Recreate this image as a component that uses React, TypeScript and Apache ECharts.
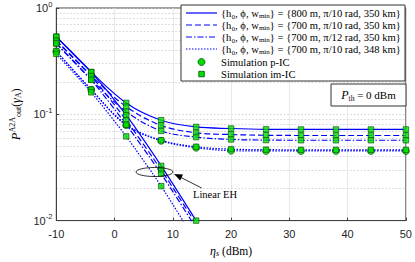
import React, { useEffect, useRef } from 'react';
import * as echarts from 'echarts';

// x positions of simulation markers (dBm)
const xMarks = [-10, -4, 2, 8, 14, 20, 26, 32, 38, 44, 50];
const xLinear = [-10, -4, 2, 8, 14];

// Non-linear EH analytic curves
const nlSolid = [0.537, 0.25, 0.128, 0.088, 0.076, 0.0735, 0.0722, 0.072, 0.072, 0.072, 0.072];
const nlDashed = [0.494, 0.23, 0.118, 0.0785, 0.067, 0.0645, 0.0635, 0.0632, 0.0632, 0.0632, 0.0632];
const nlDashDot = [0.464, 0.212, 0.106, 0.0698, 0.061, 0.058, 0.0572, 0.057, 0.057, 0.057, 0.057];
const nlDotted = [0.393, 0.171, 0.08, 0.057, 0.0495, 0.047, 0.0465, 0.0463, 0.0463, 0.0463, 0.0463];

// Linear EH analytic curves
const linSolid = [0.537, 0.249, 0.098, 0.0327, 0.01];
const linDashed = [0.494, 0.229, 0.088, 0.03, 0.0093];
const linDashDot = [0.464, 0.211, 0.08, 0.0276, 0.0085];
const linDotted = [0.37, 0.161, 0.062, 0.0211, 0.0063];

// Simulation p-IC (circles) on the lowest curve
const pIC = [0.39, 0.17, 0.079, 0.0563, 0.0485, 0.0455, 0.0452, 0.0452, 0.0452, 0.0452, 0.0452];

const curveNames = ['c800', 'c700', 'c700b', 'c348'];
const curveLabels = [
  '{h₀, ϕ, w{s|min}} = {800 m, π/10 rad, 350 km}',
  '{h₀, ϕ, w{s|min}} = {700 m, π/10 rad, 350 km}',
  '{h₀, ϕ, w{s|min}} = {700 m, π/12 rad, 350 km}',
  '{h₀, ϕ, w{s|min}} = {700 m, π/10 rad, 348 km}',
];
const simLabels = ['Simulation p-IC', 'Simulation im-IC'];

const yMinor = [0.02, 0.03, 0.04, 0.05, 0.06, 0.07, 0.08, 0.09, 0.2, 0.3, 0.4, 0.5, 0.6, 0.7, 0.8, 0.9];

const BLUE = '#0000ff';
const GREEN = '#00e000';
const MEDGE = '#0a4a0a';
const SERIF = '"Liberation Serif", "DejaVu Serif", serif';
const SANS = '"Liberation Sans", Arial, sans-serif';

const styles: any[] = ['solid', [6, 3], [6, 2, 1.5, 2], [1.5, 1.5]];
const dashArr: any[] = [null, [6, 3], [6, 2, 1.5, 2], [1.5, 1.5]];

function pairs(xs: number[], ys: number[]) {
  return xs.map((x, i) => [x, ys[i]]);
}

export default function App() {
  const ref = useRef<HTMLDivElement>(null);
  useEffect(() => {
    if (!ref.current) return;
    const chart = echarts.init(ref.current, null, { renderer: 'svg' });
    const nl = [nlSolid, nlDashed, nlDashDot, nlDotted];
    const lin = [linSolid, linDashed, linDashDot, linDotted];
    const lineSeries: any[] = [];
    nl.forEach((arr, i) => {
      lineSeries.push({
        type: 'line',
        name: curveNames[i],
        data: pairs(xMarks, arr),
        smooth: 0.35,
        symbol: 'none',
        lineStyle: { color: BLUE, width: 1.2, type: styles[i] },
        itemStyle: { color: BLUE },
        z: 2,
        ...(i === 0
          ? {
              markLine: {
                silent: true,
                symbol: ['none', 'none'],
                label: { show: false },
                lineStyle: { color: '#c8c8c8', type: [1.5, 2], width: 0.8 },
                data: yMinor.map((v) => ({ yAxis: v })),
                z: 0,
              },
            }
          : {}),
      });
    });
    // p-IC analytic companion of the lowest curve
    lineSeries.push({
      type: 'line',
      name: 'c348-pIC',
      data: pairs(xMarks, pIC),
      smooth: 0.35,
      symbol: 'none',
      lineStyle: { color: BLUE, width: 1.2, type: styles[3] },
      z: 2,
    });
    lin.forEach((arr, i) => {
      lineSeries.push({
        type: 'line',
        name: curveNames[i],
        data: pairs(xLinear, arr),
        smooth: 0.2,
        symbol: 'none',
        clip: true,
        lineStyle: { color: BLUE, width: 1.2, type: styles[i] },
        itemStyle: { color: BLUE },
        z: 2,
      });
    });
    const squares: number[][] = [];
    nl.forEach((arr) => arr.forEach((v, j) => squares.push([xMarks[j], v])));
    lin.forEach((arr) => arr.forEach((v, j) => { if (v >= 0.01) squares.push([xLinear[j], v]); }));

    // legend drawn as graphic elements
    const LX = 181, LY = 5, LW = 224, LH = 76;
    const rowY = [13, 25, 37, 49, 62, 74];
    const legendEls: any[] = [
      { type: 'rect', shape: { x: LX, y: LY, width: LW, height: LH }, style: { fill: '#fff', stroke: '#333', lineWidth: 1 }, z: 100 },
    ];
    curveLabels.forEach((t, i) => {
      legendEls.push({
        type: 'line', shape: { x1: 186, y1: rowY[i], x2: 217, y2: rowY[i] },
        style: { stroke: BLUE, lineWidth: 1.2, lineDash: dashArr[i] }, z: 101,
      });
      legendEls.push({
        type: 'text', x: 221, y: rowY[i], z: 101,
        style: {
          text: t, fontFamily: SERIF, fontSize: 10.6, fill: '#000', verticalAlign: 'middle',
          rich: { s: { fontSize: 7, fontFamily: SERIF, padding: [5, 0, 0, 0] } },
        },
      });
    });
    legendEls.push({ type: 'circle', shape: { cx: 201.5, cy: rowY[4], r: 3.5 }, style: { fill: GREEN, stroke: MEDGE, lineWidth: 0.8 }, z: 101 });
    legendEls.push({ type: 'rect', shape: { x: 198.8, y: rowY[5] - 2.7, width: 5.5, height: 5.5 }, style: { fill: GREEN, stroke: MEDGE, lineWidth: 0.8 }, z: 101 });
    simLabels.forEach((t, k) => {
      legendEls.push({
        type: 'text', x: 221, y: rowY[4 + k], z: 101,
        style: { text: t, fontFamily: SERIF, fontSize: 10.6, fill: '#000', verticalAlign: 'middle' },
      });
    });

    chart.setOption({
      animation: false,
      grid: { left: 47, right: 8, top: 5, bottom: 36, show: true, borderColor: '#404040', borderWidth: 1, backgroundColor: '#fff' },
      xAxis: [
        {
          type: 'value',
          min: -10,
          max: 50,
          interval: 10,
          name: '{i|η}{s|s} (dBm)',
          nameLocation: 'middle',
          nameGap: 22,
          nameTextStyle: {
            fontFamily: SERIF, fontSize: 11.5, color: '#000',
            rich: { i: { fontStyle: 'italic', fontFamily: SERIF, fontSize: 12 }, s: { fontStyle: 'italic', fontFamily: SERIF, fontSize: 8, padding: [5, 0, 0, 0] } },
          },
          axisLine: { show: true, onZero: false, lineStyle: { color: '#404040' } },
          axisTick: { inside: true, length: 3, lineStyle: { color: '#404040' } },
          axisLabel: { fontFamily: SANS, fontSize: 11, color: '#262626', margin: 8 },
          splitLine: { show: true, lineStyle: { color: '#e3e3e3', width: 0.8 } },
        },
      ],
      yAxis: [
        {
          type: 'log',
          logBase: 10,
          min: 0.01,
          max: 1,
          name: '{i|P}{sp|A2A}{sb|out}({i|γ}{sb|A})',
          nameLocation: 'middle',
          nameGap: 26,
          nameRotate: 90,
          nameTextStyle: {
            fontFamily: SERIF, fontSize: 11.5, color: '#000',
            rich: {
              i: { fontStyle: 'italic', fontFamily: SERIF, fontSize: 12.5 },
              sp: { fontFamily: SERIF, fontSize: 8, padding: [0, 0, 7, 0] },
              sb: { fontFamily: SERIF, fontSize: 8, padding: [6, 0, 0, 0] },
            },
          },
          axisLine: { show: true, onZero: false, lineStyle: { color: '#404040' } },
          axisTick: { inside: true, length: 3, lineStyle: { color: '#404040' } },
          axisLabel: {
            fontFamily: SANS, fontSize: 11, color: '#262626', margin: 4,
            formatter: (v: number) => '10{sup|' + Math.round(Math.log10(v)) + '}',
            rich: { sup: { fontFamily: SANS, fontSize: 7.5, padding: [0, 0, 8, 0], color: '#262626' } },
          },
          splitLine: { show: true, lineStyle: { color: '#c8c8c8', type: [1.5, 2], width: 0.8 } },
        },
      ],
      series: [
        ...lineSeries,
        {
          type: 'scatter',
          name: simLabels[0],
          data: pairs(xMarks, pIC),
          symbol: 'circle',
          symbolSize: 7,
          itemStyle: { color: GREEN, borderColor: MEDGE, borderWidth: 0.8 },
          z: 4,
        },
        {
          type: 'scatter',
          name: simLabels[1],
          data: squares,
          symbol: 'rect',
          symbolSize: 5.5,
          clip: true,
          itemStyle: { color: GREEN, borderColor: MEDGE, borderWidth: 0.8 },
          z: 5,
        },
      ],
      graphic: [
        ...legendEls,
        { type: 'ellipse', shape: { cx: 154.5, cy: 172, rx: 18.5, ry: 4.5 }, style: { fill: 'none', stroke: '#000', lineWidth: 0.8 }, z: 100 },
        { type: 'line', shape: { x1: 201.7, y1: 188, x2: 178, y2: 176 }, style: { stroke: '#000', lineWidth: 0.8 }, z: 100 },
        { type: 'polygon', shape: { points: [[174, 174], [183, 174.6], [180.2, 180.4]] }, style: { fill: '#000' }, z: 100 },
        { type: 'text', x: 193, y: 194, style: { text: 'Linear EH', fontFamily: SERIF, fontSize: 10.5, fill: '#000', verticalAlign: 'middle' }, z: 100 },
        { type: 'rect', shape: { x: 331, y: 84, width: 75, height: 22 }, style: { fill: '#fff', stroke: '#333', lineWidth: 1 }, z: 100 },
        {
          type: 'text', x: 368.5, y: 95, z: 101,
          style: {
            text: '{i|P}{s|th} = 0 dBm', fontFamily: SERIF, fontSize: 11, fill: '#000', align: 'center', verticalAlign: 'middle',
            rich: { i: { fontStyle: 'italic', fontFamily: SERIF, fontSize: 12 }, s: { fontFamily: SERIF, fontSize: 7.5, padding: [6, 0, 0, 0] } },
          },
        },
      ],
    });
    return () => chart.dispose();
  }, []);
  return <div ref={ref} style={{ width: 415, height: 262, position: 'absolute', left: 0, top: 0, background: '#fff' }} />;
}
